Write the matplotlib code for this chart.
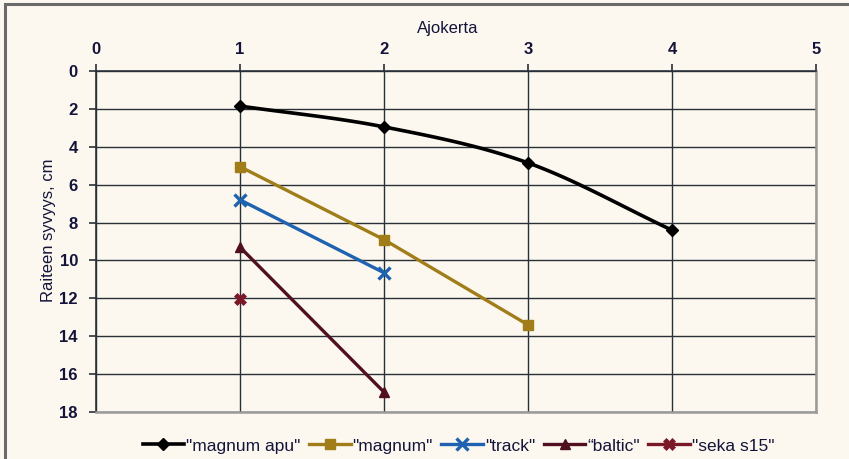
import numpy as np
import matplotlib.pyplot as plt
from matplotlib.patches import Rectangle

plt.rcParams['font.family'] = ['Liberation Sans', 'DejaVu Sans']

# ajokerrat ja raiteen syvyydet (cm)
x_apu = [1, 2, 3, 4]
y_apu = [1.85, 2.95, 4.85, 8.4]
x_magnum = [1, 2, 3]
y_magnum = [5.05, 8.9, 13.4]
x_track = [1, 2]
y_track = [6.8, 10.65]
x_baltic = [1, 2]
y_baltic = [9.3, 16.95]
x_seka = [1]
y_seka = [12.05]

labels = ['"magnum apu"', '"magnum"', '"track"', '\u201cbaltic"', '"seka s15"']

bg = '#fcf8f0'
txt = '#14143a'


def smooth(x, y, n=30):
    # Catmull-Rom käyrä pisteiden läpi (Excelin tasoitettu viiva)
    x = np.asarray(x, float)
    y = np.asarray(y, float)
    px = np.concatenate([[2 * x[0] - x[1]], x, [2 * x[-1] - x[-2]]])
    py = np.concatenate([[2 * y[0] - y[1]], y, [2 * y[-1] - y[-2]]])
    xs, ys = [], []
    for i in range(1, len(px) - 2):
        t = np.linspace(0, 1, n)
        for p, out in ((px, xs), (py, ys)):
            p0, p1, p2, p3 = p[i - 1], p[i], p[i + 1], p[i + 2]
            out.append(0.5 * (2 * p1 + (-p0 + p2) * t
                              + (2 * p0 - 5 * p1 + 4 * p2 - p3) * t ** 2
                              + (-p0 + 3 * p1 - 3 * p2 + p3) * t ** 3))
    return np.concatenate(xs), np.concatenate(ys)


fig = plt.figure(figsize=(8.49, 4.59), dpi=100, facecolor=bg)
fig.patches.append(Rectangle((5 / 849, -0.1), 1.2, 1 - 4 / 459 + 0.1,
                             transform=fig.transFigure, fill=False,
                             edgecolor='#6a6a6a', lw=2.2))
ax = fig.add_axes([96 / 849, 1 - 412 / 459, 720 / 849, 341 / 459])
ax.set_facecolor(bg)

ax.set_xlim(0, 5)
ax.set_ylim(18, 0)
ax.set_xticks(range(0, 6))
ax.set_yticks(range(0, 19, 2))
ax.grid(True, color='#2a3038', lw=1.0)
ax.set_axisbelow(True)

ax.xaxis.tick_top()
ax.tick_params(axis='both', length=5, width=1.2, color='#2a3038',
               labelsize=12, labelcolor=txt)
for lab in ax.get_xticklabels() + ax.get_yticklabels():
    lab.set_fontweight('bold')
ax.tick_params(axis='y', pad=8)
ax.tick_params(axis='x', pad=5)

for side in ['left', 'top']:
    ax.spines[side].set_color('#2a3038')
    ax.spines[side].set_linewidth(1.2)
for side in ['right', 'bottom']:
    ax.spines[side].set_color('#9a9a9a')
    ax.spines[side].set_linewidth(1.8)

fig.text(448 / 849, 1 - 28 / 459, 'Ajokerta', fontsize=12, color=txt,
         ha='center', va='center')
fig.text(49 / 849, 1 - 230 / 459, 'Raiteen syvyys, cm', fontsize=12, color=txt,
         ha='center', va='center', rotation=90)

sx, sy = smooth(x_apu, y_apu)
ax.plot(sx, sy, color='#000000', lw=2.6)
ax.plot(x_apu, y_apu, color='#000000', marker='D', ms=6, ls='none')
ax.plot(x_magnum, y_magnum, color='#a07d18', lw=2.4, marker='s', ms=7)
ax.plot(x_track, y_track, color='#1f63b0', lw=2.4, marker='x', ms=8, mew=2.4)
ax.plot(x_baltic, y_baltic, color='#501020', lw=2.4, marker='^', ms=7)
ax.plot(x_seka, y_seka, color='#7a1828', lw=2.4, marker='X', ms=8, mew=0.5)

# legendan merkit viivan kanssa
handles = [
    plt.Line2D([], [], color='#000000', lw=2.6, marker='D', ms=6),
    plt.Line2D([], [], color='#a07d18', lw=2.4, marker='s', ms=7),
    plt.Line2D([], [], color='#1f63b0', lw=2.4, marker='x', ms=8, mew=2.4),
    plt.Line2D([], [], color='#501020', lw=2.4, marker='^', ms=7),
    plt.Line2D([], [], color='#7a1828', lw=2.4, marker='X', ms=8, mew=0.5),
]
fig.legend(handles, labels, loc='center', bbox_to_anchor=(0.54, 1 - 446 / 459),
           ncol=5, frameon=False, fontsize=12.5, handlelength=2.4,
           handletextpad=0.1, columnspacing=0.5, labelcolor=txt)

fig.savefig('out.png', dpi=100, facecolor=bg)
